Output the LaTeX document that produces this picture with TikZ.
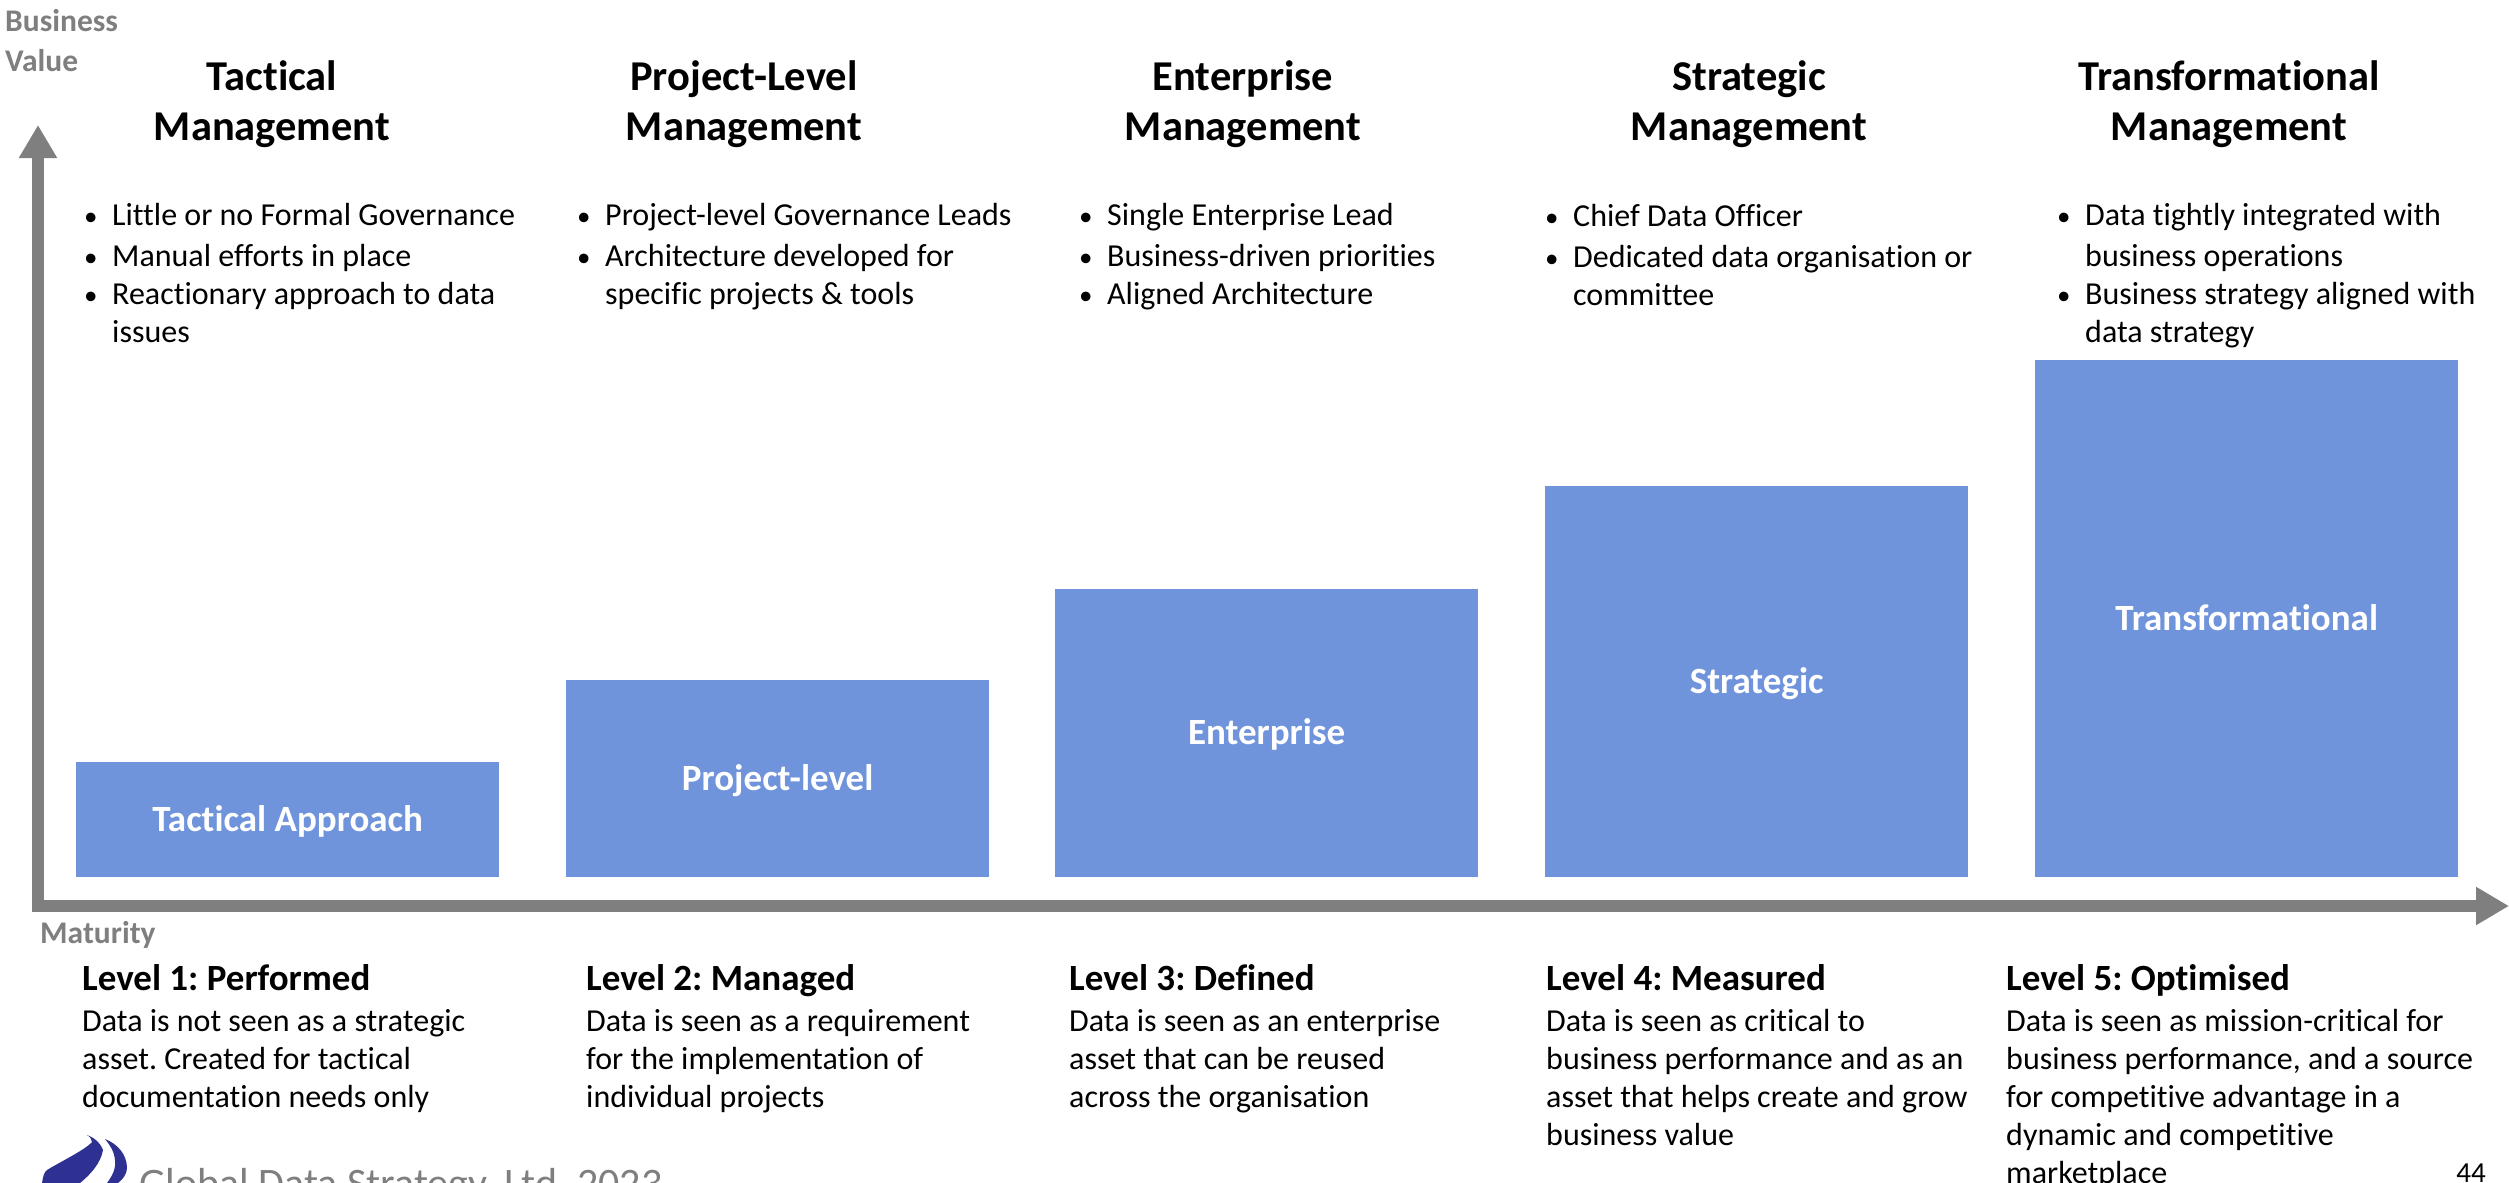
\documentclass[tikz,border=0pt]{standalone}
\usepackage{fontspec}
\setmainfont{Carlito}[RawFeature={-liga}]
\usetikzlibrary{arrows.meta}
\definecolor{boxblue}{HTML}{7094DB}
\definecolor{axisgray}{HTML}{7F7F7F}
\definecolor{logoblue}{HTML}{2E3192}
\newcommand{\bl}[1]{\makebox[24pt][l]{\hspace*{-4pt}{\fontsize{27}{27}\selectfont\textbullet}}#1}
\tikzset{
 x=1pt,y=-1pt,
 barbox/.style={fill=boxblue,draw=none,text=white,font=\fontsize{37}{40}\selectfont\bfseries,inner sep=0,anchor=north west,text height=23pt,text depth=0pt},
 axisline/.style={draw=axisgray,line width=11.5pt,-{Triangle[length=33pt,width=36pt]}},
 axislabel/.style={text=axisgray,font=\fontsize{31.5}{40}\selectfont\bfseries,align=left,anchor=north west,inner sep=0},
 headtext/.style={font=\fontsize{42.5}{50}\selectfont\bfseries,align=center,anchor=north,inner sep=0},
 bullettext/.style={font=\fontsize{32}{38}\selectfont,align=left,anchor=north west,inner sep=0},
 leveltext/.style={font=\fontsize{32}{38}\selectfont,align=left,anchor=north west,inner sep=0},
 levelhead/.style={font=\fontsize{37}{40}\selectfont\bfseries,anchor=north west,inner sep=0},
}
\begin{document}
\frenchspacing
\begin{tikzpicture}
\useasboundingbox (0,0) rectangle (2509,1183);
\clip (0,0) rectangle (2509,1183);
% bars
\node[barbox,minimum width=423pt,minimum height=115pt] (b1) at (76,762) {Tactical Approach};
\node[barbox,minimum width=423pt,minimum height=197pt] (b2) at (566,680) {Project-level};
\node[barbox,minimum width=423pt,minimum height=288pt] (b3) at (1055,589) {Enterprise};
\node[barbox,minimum width=423pt,minimum height=391pt] (b4) at (1545,486) {Strategic};
\node[barbox,minimum width=423pt,minimum height=517pt] (b5) at (2035,360) {Transformational};
% axes
\coordinate (ybase) at (38,912);
\coordinate (xbase) at (32,906);
\coordinate (ytip) at (38,125);
\coordinate (xtip) at (2509,906);
\draw[axisline] (ybase) -- (ytip);
\draw[axisline] (xbase) -- (xtip);
\node[axislabel] (ylab) at (5,9) {Business\\Value};
\node[axislabel] (xlab) at (40,921) {Maturity};
% headings
\node[headtext] (h1) at (272,60.5) {Tactical\\Management};
\node[headtext] (h2) at (744,60.5) {Project-Level\\Management};
\node[headtext] (h3) at (1243,60.5) {Enterprise\\Management};
\node[headtext] (h4) at (1749,60.5) {Strategic\\Management};
\node[headtext] (h5) at (2229,60.5) {Transformational\\Management};
% bullets
\node[bullettext] (t1) at (88,203) {\bl{Little or no Formal Governance}\\[3pt]\bl{Manual efforts in place}\\\bl{Reactionary approach to data}\\\hspace*{24pt}issues};
\node[bullettext] (t2) at (581,203) {\bl{Project-level Governance Leads}\\[3pt]\bl{Architecture developed for}\\\hspace*{24pt}specific projects \& tools};
\node[bullettext] (t3) at (1083,203) {\bl{Single Enterprise Lead}\\[3pt]\bl{Business-driven priorities}\\\bl{Aligned Architecture}};
\node[bullettext] (t4) at (1549,204) {\bl{Chief Data Officer}\\[3pt]\bl{Dedicated data organisation or}\\\hspace*{24pt}committee};
\node[bullettext] (t5) at (2061,203) {\bl{Data tightly integrated with}\\[3pt]\hspace*{24pt}business operations\\\bl{Business strategy aligned with}\\\hspace*{24pt}data strategy};
% levels
\node[levelhead] (l1) at (82,964) {Level 1: Performed};
\node[levelhead] (l2) at (586,964) {Level 2: Managed};
\node[levelhead] (l3) at (1069,964) {Level 3: Defined};
\node[levelhead] (l4) at (1546,964) {Level 4: Measured};
\node[levelhead] (l5) at (2006,964) {Level 5: Optimised};
\node[leveltext] (d1) at (82,1009) {Data is not seen as a strategic\\asset. Created for tactical\\documentation needs only};
\node[leveltext] (d2) at (586,1009) {Data is seen as a requirement\\for the implementation of\\individual projects};
\node[leveltext] (d3) at (1069,1009) {Data is seen as an enterprise\\asset that can be reused\\across the organisation};
\node[leveltext] (d4) at (1546,1009) {Data is seen as critical to\\business performance and as an\\asset that helps create and grow\\business value};
\node[leveltext] (d5) at (2006,1009) {Data is seen as mission-critical for\\business performance, and a source\\for competitive advantage in a\\dynamic and competitive\\marketplace};
% footer
\fill[logoblue] (87,1135) .. controls (93,1137) and (100,1142) .. (103,1150) .. controls (101,1163) and (90,1175) .. (80,1183) -- (42,1183) .. controls (43,1177) and (44,1172) .. (47,1170) .. controls (60,1162) and (85,1150) .. (92,1142) .. controls (92,1139) and (90,1137) .. (87,1135) -- cycle;
\fill[logoblue] (105,1139) .. controls (118,1144) and (127,1155) .. (127,1168) .. controls (127,1174) and (123,1179) .. (118,1183) -- (107,1183) .. controls (113,1175) and (116,1168) .. (115,1160) .. controls (114,1151) and (110,1145) .. (105,1139) -- cycle;
\node[anchor=base west,inner sep=0,text=axisgray,font=\fontsize{42}{50}\selectfont] (foot) at (139,1197) {Global Data Strategy, Ltd. 2023};
\node[anchor=base east,inner sep=0,font=\fontsize{29}{35}\selectfont] (pg) at (2486,1182) {44};
\end{tikzpicture}
\end{document}
